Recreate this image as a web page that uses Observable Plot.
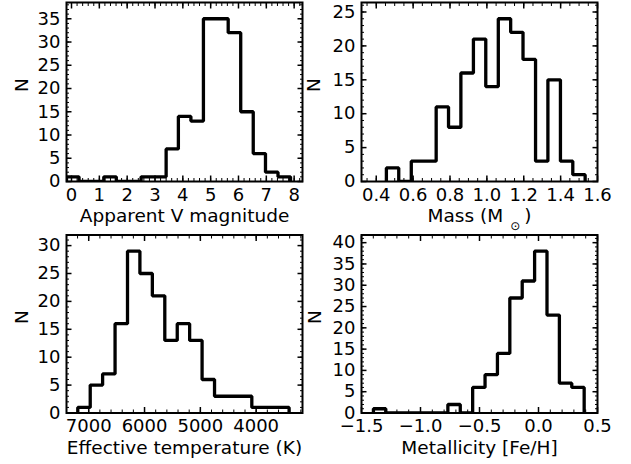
<!DOCTYPE html>
<html>
<head>
<meta charset="utf-8">
<script src="https://cdn.jsdelivr.net/npm/d3@7"></script>
<script src="https://cdn.jsdelivr.net/npm/@observablehq/plot@0.6"></script>
<style>
  html, body { margin: 0; padding: 0; background: #fff; }
  #wrap { position: relative; width: 631px; height: 464px; overflow: hidden; background: #fff; }
  #wrap svg { position: absolute; overflow: visible; }
</style>
</head>
<body>
<div id="wrap"></div>
<script>
// ---- Data ----
// Apparent V magnitude histogram
const vmagEdges = [-0.18, 0.27, 0.71, 1.16, 1.61, 2.06, 2.50, 2.95, 3.40, 3.84, 4.29, 4.74, 5.19, 5.63, 6.08, 6.53, 6.97, 7.42, 7.87];
const vmagCounts = [1, 0, 0, 1, 0, 0, 1, 1, 7, 14, 13, 35, 35, 32, 15, 6, 2, 1];
const vmagTicks = [0, 1, 2, 3, 4, 5, 6, 7, 8];
const vmagYTicks = [0, 5, 10, 15, 20, 25, 30, 35];

// Mass histogram
const massEdges = [0.455, 0.522, 0.590, 0.657, 0.725, 0.792, 0.859, 0.927, 0.994, 1.062, 1.129, 1.196, 1.264, 1.331, 1.399, 1.466, 1.533];
const massCounts = [2, 0, 3, 3, 11, 8, 16, 21, 14, 24, 22, 18, 3, 15, 3, 1];
const massTicks = [0.4, 0.6, 0.8, 1.0, 1.2, 1.4, 1.6];
const massYTicks = [0, 5, 10, 15, 20, 25];

// Effective temperature histogram
const teffEdges = [7196, 6973, 6751, 6528, 6305, 6083, 5860, 5637, 5414, 5192, 4969, 4746, 4524, 4301, 4078, 3855, 3633, 3410];
const teffCounts = [1, 5, 7, 16, 29, 25, 21, 13, 16, 13, 6, 3, 3, 3, 1, 1, 1];
const teffTicks = [7000, 6000, 5000, 4000];
const teffYTicks = [0, 5, 10, 15, 20, 25, 30];

// Metallicity histogram
const fehEdges = [-1.399, -1.294, -1.189, -1.084, -0.979, -0.873, -0.768, -0.663, -0.558, -0.453, -0.348, -0.243, -0.138, -0.033, 0.072, 0.177, 0.282, 0.387];
const fehCounts = [1, 0, 0, 0, 0, 0, 2, 0, 6, 9, 14, 27, 31, 38, 23, 7, 6];
const fehTicks = [-1.5, -1.0, -0.5, 0.0, 0.5];
const fehYTicks = [0, 5, 10, 15, 20, 25, 30, 35, 40];

const labels = {
  vmag: "Apparent V magnitude",
  mass: "Mass (M\u2299)",
  teff: "Effective temperature (K)",
  feh: "Metallicity [Fe/H]",
  n: "N"
};

// ---- Panels ----
const panels = [
  { left: 0, top: 0, width: 305, height: 232, m: [2, 3, 51, 66], nDx: -44,
    edges: vmagEdges, counts: vmagCounts, xTicks: vmagTicks, yTicks: vmagYTicks,
    xDomain: [-0.18, 8.30], yDomain: [0, 38.5], xMinor: 0.2, fmt: d3.format("d"), xLabel: labels.vmag },
  { left: 305, top: 0, width: 326, height: 232, m: [2, 34, 51, 56], nDx: -47,
    edges: massEdges, counts: massCounts, xTicks: massTicks, yTicks: massYTicks,
    xDomain: [0.32, 1.6], yDomain: [0, 26.4], xMinor: 0.05, fmt: d3.format(".1f"), xLabel: labels.mass },
  { left: 0, top: 232, width: 305, height: 232, m: [2.5, 3, 51.5, 66], nDx: -44,
    edges: teffEdges, counts: teffCounts, xTicks: teffTicks, yTicks: teffYTicks,
    xDomain: [7398, 3170], yDomain: [0, 31.9], xMinor: 200, fmt: d3.format("d"), xLabel: labels.teff },
  { left: 305, top: 232, width: 326, height: 232, m: [2.5, 34, 51.5, 56], nDx: -46.5,
    edges: fehEdges, counts: fehCounts, xTicks: fehTicks, yTicks: fehYTicks,
    xDomain: [-1.5, 0.5], yDomain: [0, 41.8], xMinor: 0.1, fmt: d3.format(".1f"), xLabel: labels.feh }
];

function minorTicks(domain, step) {
  const [a, b] = d3.extent(domain);
  const k0 = Math.ceil(a / step - 1e-9), k1 = Math.floor(b / step + 1e-9);
  return d3.range(k0, k1 + 1).map(k => +(k * step).toFixed(6));
}

const wrap = document.getElementById("wrap");
const FS = 18;

for (const p of panels) {
  const pts = [{ x: p.edges[0], y: 0 }];
  p.counts.forEach((c, i) => pts.push({ x: p.edges[i], y: c }));
  pts.push({ x: p.edges[p.edges.length - 1], y: 0 });

  const xMin = minorTicks(p.xDomain, p.xMinor);
  const yMin = minorTicks(p.yDomain, 1);

  const tickMarks = [];
  for (const anchor of ["bottom", "top"]) {
    tickMarks.push(Plot.axisX(xMin, { anchor, tickSize: -3, fill: "none", label: null, stroke: "#000", strokeWidth: 1 }));
    tickMarks.push(Plot.axisX(p.xTicks, { anchor, tickSize: -5.5, fill: "none", label: null, stroke: "#000", strokeWidth: 1.5 }));
  }
  for (const anchor of ["left", "right"]) {
    tickMarks.push(Plot.axisY(yMin, { anchor, tickSize: -3, fill: "none", label: null, stroke: "#000", strokeWidth: 1 }));
    tickMarks.push(Plot.axisY(p.yTicks, { anchor, tickSize: -5.5, fill: "none", label: null, stroke: "#000", strokeWidth: 1.5 }));
  }

  const svg = Plot.plot({
    width: p.width,
    height: p.height,
    marginTop: p.m[0], marginRight: p.m[1], marginBottom: p.m[2], marginLeft: p.m[3],
    style: { fontFamily: "DejaVu Sans", fontSize: FS + "px", color: "#000", background: "transparent", overflow: "visible" },
    x: { domain: p.xDomain, label: null },
    y: { domain: p.yDomain, label: null },
    marks: [
      Plot.line(pts, { x: "x", y: "y", curve: "step-after", stroke: "#000", strokeWidth: 3.3, strokeLinejoin: "miter", strokeLinecap: "butt", clip: true }),
      ...tickMarks,
      Plot.frame({ stroke: "#000", strokeWidth: 2 }),
      Plot.axisX(p.xTicks, { anchor: "bottom", tickSize: 0, tickPadding: 6.5, tickFormat: p.fmt, label: null, fill: "#000", fontSize: FS }),
      Plot.axisY(p.yTicks, { anchor: "left", tickSize: 0, tickPadding: 6, label: null, fill: "#000", fontSize: FS }),
      Plot.text([p.xLabel], { frameAnchor: "bottom", dy: 40.5, fontSize: 18.5, fill: "#000" }),
      Plot.text([labels.n], { frameAnchor: "left", dx: p.nDx, rotate: -90, fontSize: 18.5, fill: "#000" })
    ]
  });
  svg.style.left = p.left + "px";
  svg.style.top = p.top + "px";
  svg.style.position = "absolute";

  // Render the solar-mass subscript as a lowered, smaller glyph
  for (const t of svg.querySelectorAll("text")) {
    if (t.textContent === labels.mass) {
      const ns = "http://www.w3.org/2000/svg";
      t.textContent = "";
      const a = document.createElementNS(ns, "tspan"); a.textContent = "Mass (M";
      const s = document.createElementNS(ns, "tspan"); s.textContent = "\u2299";
      s.setAttribute("font-size", "12px"); s.setAttribute("dy", "8"); s.setAttribute("dx", "7");
      const c = document.createElementNS(ns, "tspan"); c.textContent = ")";
      c.setAttribute("dy", "-8"); c.setAttribute("dx", "4");
      t.append(a, s, c);
    }
  }
  wrap.appendChild(svg);
}
</script>
</body>
</html>
